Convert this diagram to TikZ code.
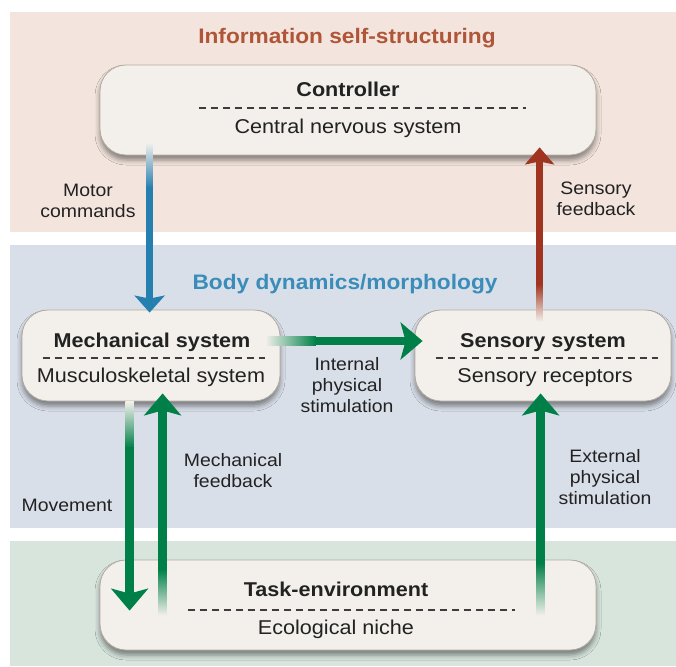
\documentclass[tikz,border=0pt]{standalone}
\usepackage{fontspec}
\setmainfont[FakeStretch=1.08]{Liberation Sans}
\usetikzlibrary{arrows.meta,shadows.blur,calc}
\definecolor{bandpink}{RGB}{243,229,221}
\definecolor{bandblue}{RGB}{217,223,233}
\definecolor{bandgreen}{RGB}{215,229,221}
\definecolor{boxfill}{RGB}{243,240,235}
\definecolor{boxline}{RGB}{178,170,158}
\definecolor{txt}{RGB}{34,34,34}
\definecolor{sepcol}{RGB}{60,60,60}
\definecolor{titlered}{RGB}{176,86,56}
\definecolor{titleblue}{RGB}{58,140,185}
\definecolor{arrblue}{RGB}{38,128,175}
\definecolor{arrred}{RGB}{160,52,32}
\definecolor{arrgreen}{RGB}{0,128,72}
\tikzset{
  sysbox/.style={draw=boxline, line width=0.8pt, fill=boxfill, rounded corners=26pt,
    blur shadow={shadow xshift=0pt, shadow yshift=-5pt, shadow blur radius=5pt, shadow opacity=45},
    minimum width=#1, minimum height=90pt, inner sep=0pt},
  boxhead/.style={font=\fontsize{20}{24}\selectfont\bfseries, text=txt, inner sep=0pt, anchor=base},
  boxsub/.style={font=\fontsize{20}{24}\selectfont, text=txt, inner sep=0pt, anchor=base},
  lbl/.style={font=\fontsize{18}{21}\selectfont, text=txt, align=center, inner sep=0pt},
  bandtitle/.style={font=\fontsize{21}{25}\selectfont\bfseries, inner sep=0pt, anchor=base},
  sepline/.style={dash pattern=on 7.5pt off 4.5pt, line width=1.8pt, draw=sepcol},
  bluearrow/.style={draw=arrblue, line width=6.5pt, -{Stealth[length=17pt,width=30pt,inset=3pt]}},
  redarrow/.style={draw=arrred, line width=6.5pt, -{Stealth[length=17pt,width=29pt,inset=3pt]}},
  greenarrow/.style={draw=arrgreen, line width=8.5pt, -{Stealth[length=22pt,width=37pt,inset=5pt]}},
}
\begin{document}
\begin{tikzpicture}[x=1pt,y=-1pt]
\useasboundingbox (0,0) rectangle (676,666);
\fill[white] (0,0) rectangle (676,666);
% bands
\fill[bandpink] (10,12) rectangle (676,232);
\fill[bandblue] (10,245) rectangle (676,528);
\fill[bandgreen] (10,541) rectangle (676,666);
\node[bandtitle, text=titlered] (t1) at (347,44) {Information self-structuring};
\node[bandtitle, text=titleblue] (t2) at (345,289) {Body dynamics/morphology};
% boxes
\node[sysbox=496pt] (ctrl) at (348,110) {};
\node[sysbox=258pt, minimum height=91pt] (mech) at (151,355.5) {};
\node[sysbox=256pt, minimum height=91pt] (sens) at (543,355.5) {};
\node[sysbox=496pt] (task) at (348,605) {};
% box texts
\node[boxhead] (ctrlA) at ($(ctrl.north)+(0,32)$) {Controller};
\node[boxsub] (ctrlB) at ($(ctrl.north)+(0,69)$) {Central nervous system};
\draw[sepline] ($(ctrl.north west)+(99,43)$) -- ($(ctrl.north west)+(426,43)$);
\node[boxhead] (mechA) at ($(mech.north)+(1,38)$) {Mechanical system};
\node[boxsub] (mechB) at ($(mech.north)+(0,73)$) {Musculoskeletal system};
\draw[sepline] ($(mech.north west)+(21,48)$) -- ($(mech.north west)+(243,48)$);
\node[boxhead] (sensA) at ($(sens.north)+(0,38)$) {Sensory system};
\node[boxsub] (sensB) at ($(sens.north)+(2,73)$) {Sensory receptors};
\draw[sepline] ($(sens.north west)+(21,48)$) -- ($(sens.north west)+(243,48)$);
\node[boxhead] (taskA) at ($(task.north)+(-12,37)$) {Task-environment};
\node[boxsub] (taskB) at ($(task.north)+(-12,75)$) {Ecological niche};
\draw[sepline] ($(task.north west)+(88,50)$) -- ($(task.north west)+(415,50)$);
% labels
\node[lbl] (lmotor) at (88,201) {Motor\\commands};
\node[lbl] (lsfb) at (596,199) {Sensory\\feedback};
\node[lbl] (lint) at (347,385) {Internal\\physical\\stimulation};
\node[lbl] (lmfb) at (233,471) {Mechanical\\feedback};
\node[lbl] (lmov) at (67,505) {Movement};
\node[lbl] (lext) at (605,477) {External\\physical\\stimulation};
% blue arrow: controller -> mechanical
\coordinate (b0) at ($(ctrl.south west)+(50,-13)$);
\coordinate (b1) at ($(b0)+(0,45)$);
\coordinate (b2) at ($(b0 |- mech.north)+(0,3)$);
\shade[top color=boxfill, bottom color=arrblue] ($(b0)+(-3.25,0)$) rectangle ($(b1)+(3.25,0.5)$);
\draw[bluearrow] (b1) -- (b2);
% red arrow: sensory -> controller
\coordinate (r0) at ($(sens.north west)+(125,12)$);
\coordinate (r1) at ($(r0)+(0,-37)$);
\coordinate (r2) at ($(r0 |- ctrl.south)+(0,-8)$);
\shade[top color=arrred, bottom color=boxfill] ($(r1)+(-3.25,-0.5)$) rectangle ($(r0)+(3.25,0)$);
\draw[redarrow] (r1) -- (r2);
% green horizontal: mechanical -> sensory
\coordinate (g0) at ($(mech.east)+(-15,-14.5)$);
\coordinate (g1) at ($(g0)+(50,0)$);
\coordinate (g2) at ($(g0 -| sens.west)+(8,0)$);
\shade[left color=boxfill, right color=arrgreen] ($(g0)+(0,-4.25)$) rectangle ($(g1)+(0.5,4.25)$);
\draw[greenarrow] (g1) -- (g2);
% movement: mechanical -> task
\coordinate (m0) at ($(mech.south west)+(108,0)$);
\coordinate (m1) at ($(m0)+(0,46)$);
\coordinate (m2) at ($(m0 |- task.north)+(0,51)$);
\shade[top color=boxfill, bottom color=arrgreen] ($(m0)+(-4.25,0)$) rectangle ($(m1)+(4.25,0.5)$);
\draw[greenarrow] (m1) -- (m2);
% mechanical feedback: task -> mechanical
\coordinate (f0) at ($(task.north west)+(63,56)$);
\coordinate (f1) at ($(f0)+(0,-46)$);
\coordinate (f2) at ($(f0 |- mech.south)+(0,-8)$);
\shade[top color=arrgreen, bottom color=boxfill] ($(f1)+(-4.25,-0.5)$) rectangle ($(f0)+(4.25,0)$);
\draw[greenarrow] (f1) -- (f2);
% external stimulation: task -> sensory
\coordinate (e0) at ($(task.north west)+(441,56)$);
\coordinate (e1) at ($(e0)+(0,-52)$);
\coordinate (e2) at ($(e0 |- sens.south)+(0,-8)$);
\shade[top color=arrgreen, bottom color=boxfill] ($(e1)+(-4.25,-0.5)$) rectangle ($(e0)+(4.25,0)$);
\draw[greenarrow] (e1) -- (e2);
\end{tikzpicture}
\end{document}
